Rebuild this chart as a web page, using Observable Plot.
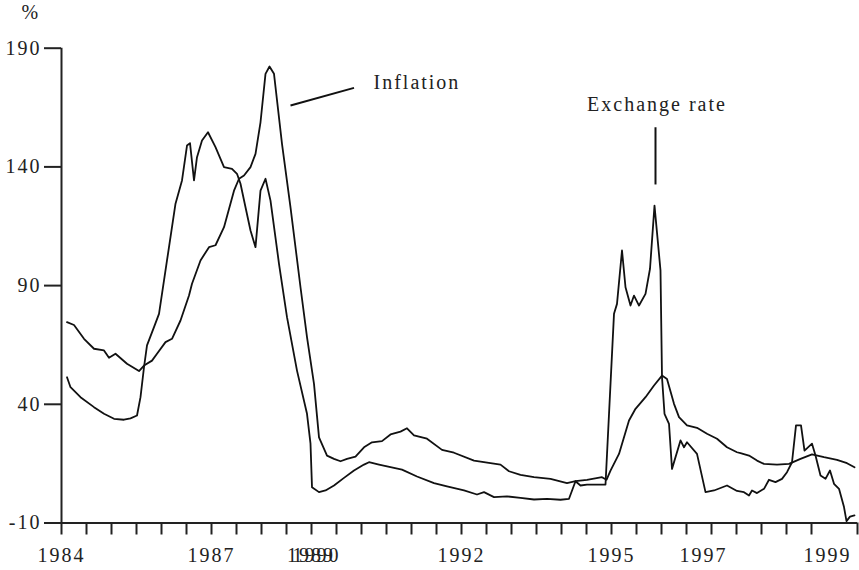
<!DOCTYPE html>
<html><head><meta charset="utf-8">
<script src="https://cdn.jsdelivr.net/npm/d3@7"></script>
<script src="https://cdn.jsdelivr.net/npm/@observablehq/plot@0.6"></script>
<style>body{margin:0;background:#fff}</style>
</head><body><div id="chart"></div>
<script>
// Inflation (%), decimal year
const infYears = [1984.11,1984.25,1984.45,1984.65,1984.85,1984.95,1985.08,1985.31,1985.55,1985.65,1985.81,1985.91,1986.08,1986.21,1986.38,1986.55,1986.61,1986.78,1986.95,1987.08,1987.25,1987.45,1987.55,1987.65,1987.78,1987.88,1987.98,1988.08,1988.16,1988.25,1988.41,1988.58,1988.78,1988.91,1989.05,1989.15,1989.31,1989.45,1989.58,1989.71,1989.88,1990.05,1990.21,1990.41,1990.58,1990.78,1990.91,1991.05,1991.31,1991.61,1991.85,1992.25,1992.58,1992.78,1992.95,1993.18,1993.45,1993.78,1994.11,1994.28,1994.51,1994.81,1994.9,1994.98,1995.15,1995.25,1995.35,1995.48,1995.68,1995.85,1996.01,1996.11,1996.25,1996.35,1996.51,1996.71,1996.91,1997.11,1997.31,1997.51,1997.58,1997.75,1997.91,1998.05,1998.31,1998.55,1998.78,1999.01,1999.25,1999.51,1999.71,1999.86];
const infValues = [74.6,73.4,67.6,63.4,62.7,59.6,61.3,57.1,54,56.3,58.4,61.3,66.2,67.6,75.3,85.8,90.8,100.6,106.2,107,114.6,130,135,136.4,139.9,145.5,158.8,179.2,182.3,179.2,149.7,123,89.3,68.3,48.6,26.1,18.4,17,16,17,18,21.9,24,24.5,27.3,28.5,29.9,26.9,25.5,20.8,19.6,16.3,15.2,14.6,11.8,10.3,9.3,8.6,6.8,7.6,8.2,9.3,8.2,12.1,19.1,26.1,33.2,38.1,43,47.9,52.1,50.7,40.2,34.6,31.1,30.1,27.6,25.5,21.9,19.8,19.4,18.4,16.3,14.9,14.6,14.9,17,18.9,17.7,16.6,15.2,13.5];

// Exchange rate (%), decimal year
const fxYears = [1984.11,1984.18,1984.38,1984.65,1984.85,1985.05,1985.25,1985.38,1985.51,1985.58,1985.65,1985.71,1985.85,1985.95,1986.11,1986.28,1986.41,1986.51,1986.57,1986.65,1986.71,1986.81,1986.93,1987.08,1987.25,1987.41,1987.51,1987.58,1987.68,1987.78,1987.88,1987.98,1988.08,1988.18,1988.35,1988.51,1988.71,1988.91,1988.98,1989.01,1989.15,1989.28,1989.45,1989.65,1989.85,1990.05,1990.15,1990.35,1990.58,1990.81,1991.11,1991.45,1991.71,1992.05,1992.31,1992.45,1992.65,1992.91,1993.18,1993.45,1993.71,1993.98,1994.15,1994.28,1994.38,1994.51,1994.88,1995.05,1995.11,1995.21,1995.28,1995.38,1995.45,1995.55,1995.68,1995.77,1995.86,1995.98,1996.01,1996.06,1996.15,1996.21,1996.38,1996.45,1996.51,1996.71,1996.88,1997.05,1997.31,1997.51,1997.65,1997.75,1997.81,1997.91,1998.05,1998.15,1998.28,1998.41,1998.51,1998.61,1998.69,1998.79,1998.86,1999.01,1999.08,1999.18,1999.28,1999.37,1999.45,1999.55,1999.65,1999.7,1999.77,1999.86];
const fxValues = [51.4,47.2,43,38.8,36,33.9,33.5,34.1,35.3,43,55.6,64.8,72.5,78.1,100.6,124.5,134.3,149,150,134.3,144.1,151.1,154.6,148.3,139.9,139.2,137.1,132.9,123,113.2,106.2,130,135,125.8,99.2,76.7,54.2,36,23.4,5.1,3,3.7,5.8,9,12.1,14.6,15.6,14.6,13.5,12.5,9.6,6.8,5.4,3.7,2,3,0.9,1.2,0.6,-0.1,0.2,-0.2,0.2,7.6,5.8,6.2,6.2,78.1,82.3,104.8,89.3,81.6,85.8,81.6,86.5,97.1,123.7,96.4,51.4,36,31.8,12.8,24.8,21.9,24,19.1,3,3.7,5.8,3.5,3,1.6,3.7,2.6,4.4,8.2,7.2,8.6,11.4,15.6,31.1,31.1,20.5,23.4,18.4,10,8.6,12.1,6.5,4.4,-3.3,-9.2,-7.3,-6.8];

const yTicks = [-10, 40, 90, 140, 190];
const xTickYears = d3.range(0, 31).map(k => 1984 + k * 0.5).concat([1999.92]);
const xLabelText = ["1984", "1987", "1989", "1990", "1992", "1995", "1997", "1999"];
const xLabelPos = [1984, 1987, 1988.99, 1989.1, 1992, 1995, 1996.84, 1999.32];

const annText = ["Inflation", "Exchange rate"];
const annX = [1990.24, 1995.91];
const annY = [173, 163.5];
const annAnchor = ["start", "middle"];
const pointerX1 = [1988.58, 1995.88], pointerY1 = [165.9, 156.7];
const pointerX2 = [1989.85, 1995.88], pointerY2 = [173.3, 132.6];

const series = [
  ...infYears.map((t, i) => ({series: "Inflation", t, v: infValues[i]})),
  ...fxYears.map((t, i) => ({series: "Exchange rate", t, v: fxValues[i]}))
];
const xLabels = xLabelText.map((s, i) => ({s, t: xLabelPos[i]}));
const anns = annText.map((s, i) => ({s, t: annX[i], v: annY[i], a: annAnchor[i]}));
const pointers = pointerX1.map((x, i) => ({x1: x, y1: pointerY1[i], x2: pointerX2[i], y2: pointerY2[i]}));

const ink = "#222";
const chart = Plot.plot({
  width: 859, height: 570,
  marginLeft: 61, marginRight: 2, marginTop: 47.7, marginBottom: 47.5,
  x: {domain: [1984, 1999.92]},
  y: {domain: [-10, 190]},
  style: "font-family: 'Liberation Serif', serif; font-size: 20px; letter-spacing: 2px; color: #222; background: #fff; overflow: visible;",
  marks: [
    Plot.axisY({ticks: yTicks, tickSize: 17, tickPadding: 3, tickFormat: d => String(d), label: null, stroke: ink, strokeWidth: 2, fill: ink}),
    Plot.axisX({ticks: xTickYears, tickSize: 12, tickFormat: () => "", label: null, stroke: ink, strokeWidth: 2}),
    Plot.ruleX([1984], {stroke: ink, strokeWidth: 2}),
    Plot.ruleY([-10], {stroke: ink, strokeWidth: 2}),
    Plot.text(xLabels, {x: "t", text: "s", frameAnchor: "bottom", lineAnchor: "middle", dy: 33, fill: ink, textAnchor: "middle"}),
    Plot.text(["%"], {frameAnchor: "top-left", lineAnchor: "middle", dx: -40, dy: -36, fill: ink}),
    Plot.line(series, {x: "t", y: "v", z: "series", stroke: "#111", strokeWidth: 1.8}),
    Plot.link(pointers, {x1: "x1", y1: "y1", x2: "x2", y2: "y2", stroke: "#111", strokeWidth: 2}),
    Plot.text(anns.filter(d => d.a === "start"), {x: "t", y: "v", text: "s", textAnchor: "start", lineAnchor: "bottom", fill: ink}),
    Plot.text(anns.filter(d => d.a === "middle"), {x: "t", y: "v", text: "s", textAnchor: "middle", lineAnchor: "bottom", fill: ink})
  ]
});
document.getElementById("chart").appendChild(chart);
</script>
</body></html>
